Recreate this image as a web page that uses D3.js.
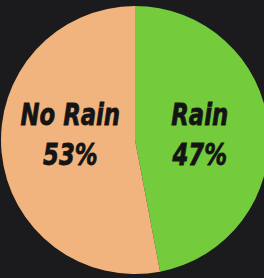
<!DOCTYPE html>
<html>
<head>
<meta charset="utf-8">
<script src="https://cdn.jsdelivr.net/npm/d3@7"></script>
<style>
  html, body { margin: 0; padding: 0; background: #1b1b1d; overflow: hidden; }
</style>
</head>
<body>
<div id="chart"></div>
<script>
var labels = ["Rain", "No Rain"];
var values = [47, 53];
var colors = ["#74cb3c", "#f1b47e"];

function show_chart () {
    var width = 264, height = 278;
    var cx = 135, cy = 140, radius = 134;

    var svg = d3.select("#chart")
    .append("svg")
    .attr("width", width)
    .attr("height", height)
    .append("g")
    .attr("transform", "translate(" + cx + "," + cy + ")");

    var pie = d3.pie().sort(null).value(function(d) { return d; });
    var arc = d3.arc().innerRadius(0).outerRadius(radius);
    var labelArc = d3.arc().innerRadius(65).outerRadius(65);

    var slices = pie(values);

    svg.selectAll("path")
    .data(slices)
    .enter()
    .append("path")
    .attr("d", arc)
    .attr("fill", function(d, i) { return colors[i]; });

    // two-line labels, same height on both sides, squeezed to look condensed
    var text = svg.selectAll("text")
    .data(slices)
    .enter()
    .append("text")
    .attr("transform", function(d) {
        return "translate(" + labelArc.centroid(d)[0] + ",0) scale(0.76,1)";
    })
    .attr("text-anchor", "middle")
    .style("font-family", "'DejaVu Sans', sans-serif")
    .style("font-weight", "bold")
    .style("font-style", "italic")
    .style("font-size", "30px")
    .attr("fill", "#141414")
    .attr("stroke", "#141414")
    .attr("stroke-width", 0.8);

    text.append("tspan")
    .attr("x", 0)
    .attr("y", -15)
    .text(function(d, i) { return labels[i]; });

    text.append("tspan")
    .attr("x", 0)
    .attr("y", 25)
    .text(function(d) { return d.value + "%"; });
}

show_chart();
</script>
</body>
</html>
